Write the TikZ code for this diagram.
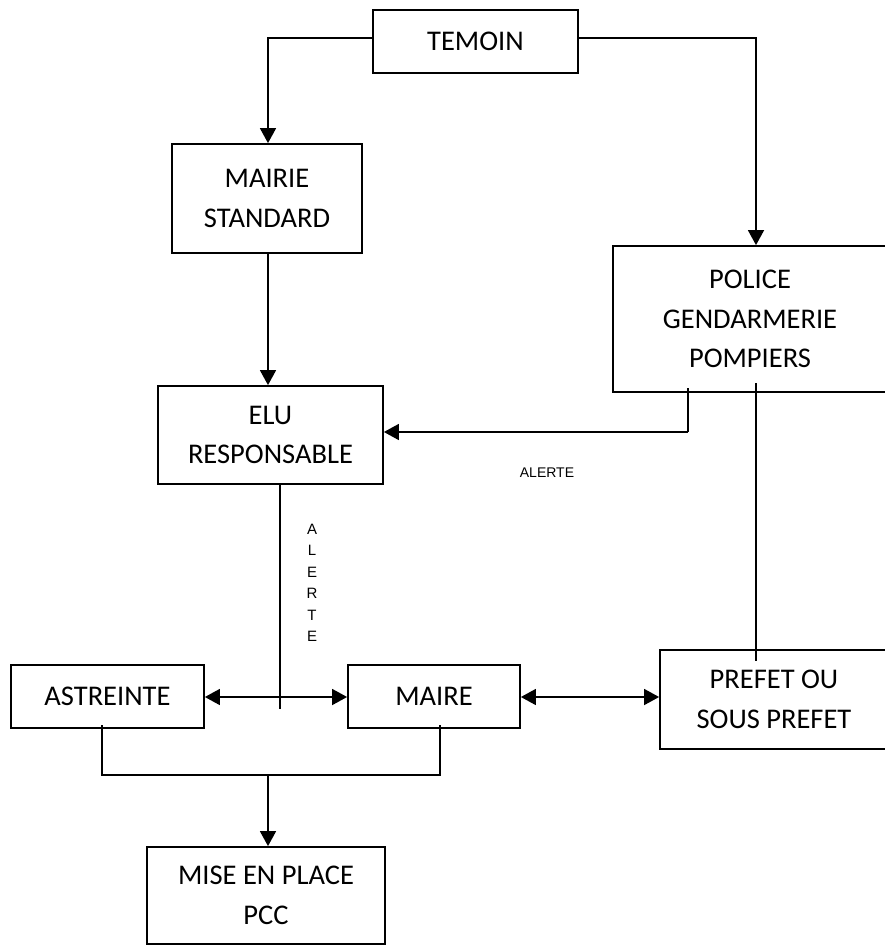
\documentclass[tikz,border=0pt]{standalone}
\usepackage{fontspec}
\setmainfont{Carlito}
\newfontfamily\arialfont{Liberation Sans}
\usetikzlibrary{arrows.meta}
\begin{document}
\begin{tikzpicture}[x=1pt,y=-1pt,
  box/.style={draw, line width=1.8pt, rectangle, inner sep=0pt, align=center, font=\fontsize{28.5}{39.5}\selectfont},
  conn/.style={line width=1.6pt},
  arr/.style={conn, -{Triangle[length=15pt,width=16pt]}},
  darr/.style={conn, {Triangle[length=15pt,width=16pt]}-{Triangle[length=15pt,width=16pt]}},
  small/.style={font=\arialfont\fontsize{14}{21.5}\selectfont, align=center, inner sep=0pt},
  vsmall/.style={font=\arialfont\fontsize{15}{21.5}\selectfont, align=center, inner sep=0pt}]
\useasboundingbox (0,0) rectangle (885,945);
% boxes
\node[box, minimum width=205pt, minimum height=63pt] (temoin) at (475.5,41.5) {TEMOIN};
\node[box, minimum width=190pt, minimum height=109pt] (mairie) at (267,198.5) {MAIRIE\\STANDARD};
\node[box, minimum width=274pt, minimum height=146pt] (police) at (750,319) {POLICE\\GENDARMERIE\\POMPIERS};
\node[box, minimum width=225pt, minimum height=98pt] (elu) at (270.5,435) {ELU\\RESPONSABLE};
\node[box, minimum width=193pt, minimum height=63pt] (astreinte) at (107.5,696.5) {ASTREINTE};
\node[box, minimum width=172pt, minimum height=63pt] (maire) at (434,696.5) {MAIRE};
\node[box, minimum width=228pt, minimum height=99pt] (prefet) at (774,699.5) {PREFET OU\\SOUS PREFET};
\node[box, minimum width=238pt, minimum height=97pt] (mise) at (266,895.5) {MISE EN PLACE\\PCC};
% labels
\node[small] (alerte1) at (547,473) {ALERTE};
\node[vsmall] (alerte2) at (312,583) {A\\L\\E\\R\\T\\E};
% helper coordinates
\coordinate (t1) at (268,38);
\coordinate (t2) at (756,38);
\coordinate (pa) at (688,388);
\coordinate (pb) at (688,432);
\coordinate (pc) at (756,383);
\coordinate (pd) at (756,661);
\coordinate (ea) at (280,484);
\coordinate (eb) at (280,709);
\coordinate (ja) at (102,775);
\coordinate (jm) at (440,775);
\coordinate (jc) at (268,775);
% connectors
\draw[arr] (temoin.west |- t1) -- (t1) -- (t1 |- mairie.north);
\draw[arr] (temoin.east |- t2) -- (t2) -- (t2 |- police.north);
\draw[arr] (mairie.south -| 268,0) -- (elu.north -| 268,0);
\draw[conn] (pa) -- (pb);
\draw[arr] (pb) -- (elu.east |- pb);
\draw[conn] (pc) -- (pd);
\draw[conn] (ea) -- (eb);
\draw[darr] (astreinte.east |- 0,697) -- (maire.west |- 0,697);
\draw[darr] (maire.east |- 0,697) -- (prefet.west |- 0,697);
\draw[conn] (102,725) -- (ja) -- (jm) -- (440,725);
\draw[arr] (jc) -- (jc |- mise.north);
\end{tikzpicture}
\end{document}
